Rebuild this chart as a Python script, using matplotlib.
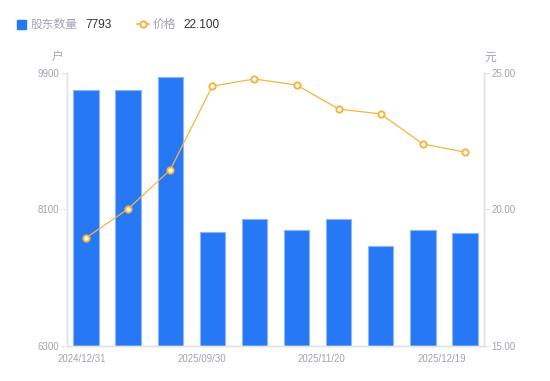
import matplotlib.pyplot as plt
from matplotlib.patches import Rectangle
from matplotlib.lines import Line2D

plt.rcParams['font.family'] = ['Liberation Sans', 'Noto Sans CJK SC', 'DejaVu Sans']

# data
dates = ['2024/12/31', '2025/03/31', '2025/06/30', '2025/09/30', '2025/10/20',
         '2025/10/31', '2025/11/20', '2025/11/28', '2025/12/10', '2025/12/19']
holders = [9680, 9680, 9845, 7805, 7975, 7830, 7975, 7620, 7830, 7793]
price = [18.96, 20.02, 21.45, 24.52, 24.78, 24.56, 23.68, 23.50, 22.40, 22.10]
shown_labels = ['2024/12/31', '2025/09/30', '2025/11/20', '2025/12/19']

BLUE = '#2778F5'
ORANGE = '#F8B33C'
GRAY = '#A3A3B3'
SPINE = '#E3E3E8'
CJK = ['Noto Sans CJK SC', 'DejaVu Sans']

fig = plt.figure(figsize=(5.5, 3.81), dpi=100)
ax = fig.add_axes([0.1218, 0.0919, 0.7582, 0.7165])
x = list(range(len(dates)))

ax.bar(x, holders, width=0.6, color=BLUE, edgecolor='#8DB6F8', linewidth=0.8,
       bottom=0, zorder=2)
ax.set_ylim(6300, 9900)
ax.set_xlim(-0.45, len(dates) - 0.55)
ax.set_yticks([6300, 8100, 9900])
ax.set_yticklabels(['6300', '8100', '9900'])

ax2 = ax.twinx()
ax2.plot(x, price, color=ORANGE, linewidth=0.9, marker='o', markersize=4.5,
         markerfacecolor='white', markeredgecolor=ORANGE, markeredgewidth=1.4,
         zorder=3)
ax2.set_ylim(15, 25)
ax2.set_yticks([15, 20, 25])
ax2.set_yticklabels(['15.00', '20.00', '25.00'])

# x labels are spread evenly, not at every bar
ax.set_xticks([-0.1, 2.75, 5.6, 8.45])
ax.set_xticklabels(shown_labels)

for a in (ax, ax2):
    for s in a.spines.values():
        s.set_color(SPINE)
        s.set_linewidth(1.0)
    a.spines['top'].set_visible(False)
    a.tick_params(axis='y', colors=SPINE, labelcolor=GRAY, labelsize=7,
                  length=4, width=0.8, pad=1.5)
ax.tick_params(axis='x', length=0, labelcolor=GRAY, labelsize=7, pad=6)

fig.text(58 / 550, 1 - 57 / 381, '户', color=GRAY, fontsize=8.5,
         ha='center', va='center', family=CJK)
fig.text(490 / 550, 1 - 57 / 381, '元', color=GRAY, fontsize=8.5,
         ha='center', va='center', family=CJK)

# legend row
fig.patches.append(Rectangle((17 / 550, 1 - 29 / 381), 9 / 550, 9 / 381,
                             transform=fig.transFigure, color=BLUE))
fig.text(31 / 550, 1 - 24.5 / 381, '股东数量', color=GRAY, fontsize=8.5,
         va='center', family=CJK)
fig.text(85 / 550, 1 - 24.5 / 381, str(holders[-1]), color='#333333',
         fontsize=8.5, va='center')
fig.lines.append(Line2D([137 / 550, 149 / 550], [1 - 24 / 381, 1 - 24 / 381],
                        transform=fig.transFigure, color=ORANGE, linewidth=1.2))
fig.lines.append(Line2D([143 / 550], [1 - 24 / 381], transform=fig.transFigure,
                        marker='o', markersize=4.5, markerfacecolor='white',
                        markeredgecolor=ORANGE, markeredgewidth=1.4))
fig.text(153 / 550, 1 - 24.5 / 381, '价格', color=GRAY, fontsize=8.5,
         va='center', family=CJK)
fig.text(183 / 550, 1 - 24.5 / 381, '%.3f' % price[-1], color='#333333',
         fontsize=8.5, va='center')

fig.savefig('out.png', dpi=100)
